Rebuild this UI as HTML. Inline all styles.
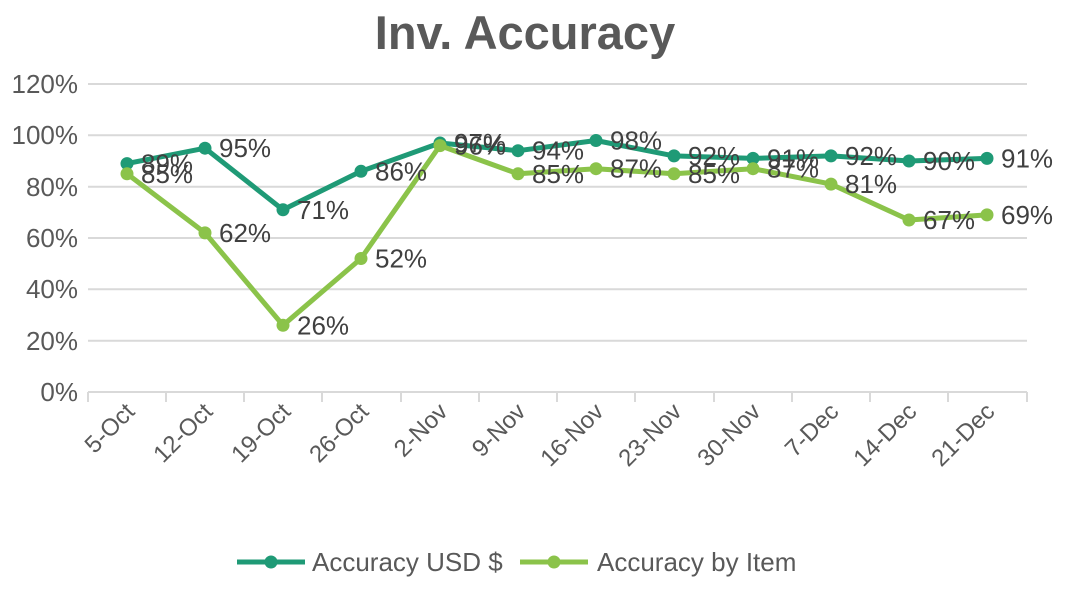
<!DOCTYPE html>
<html><head><meta charset="utf-8"><style>
html,body{margin:0;padding:0;background:#fff;}
svg{display:block;font-family:"Liberation Sans",sans-serif;}
</style></head><body>
<svg width="1072" height="591" viewBox="0 0 1072 591" xmlns="http://www.w3.org/2000/svg">
<rect width="1072" height="591" fill="#fff"/>
<text x="525" y="49" text-anchor="middle" font-size="47" font-weight="bold" fill="#595959">Inv. Accuracy</text>
<g stroke="#d9d9d9" stroke-width="2">
<line x1="88" x2="1027" y1="84" y2="84"/>
<line x1="88" x2="1027" y1="135.3" y2="135.3"/>
<line x1="88" x2="1027" y1="186.7" y2="186.7"/>
<line x1="88" x2="1027" y1="238" y2="238"/>
<line x1="88" x2="1027" y1="289.3" y2="289.3"/>
<line x1="88" x2="1027" y1="340.7" y2="340.7"/>
<line x1="88" x2="1027" y1="392" y2="392"/>
<line x1="88" x2="88" y1="392" y2="402"/><line x1="166" x2="166" y1="392" y2="402"/><line x1="244" x2="244" y1="392" y2="402"/><line x1="322" x2="322" y1="392" y2="402"/><line x1="401" x2="401" y1="392" y2="402"/><line x1="479" x2="479" y1="392" y2="402"/><line x1="557" x2="557" y1="392" y2="402"/><line x1="635" x2="635" y1="392" y2="402"/><line x1="714" x2="714" y1="392" y2="402"/><line x1="792" x2="792" y1="392" y2="402"/><line x1="870" x2="870" y1="392" y2="402"/><line x1="948" x2="948" y1="392" y2="402"/><line x1="1027" x2="1027" y1="392" y2="402"/>
</g>
<g font-size="26" fill="#595959" text-anchor="end">
<text x="78" y="93">120%</text><text x="78" y="144">100%</text><text x="78" y="196">80%</text><text x="78" y="247">60%</text><text x="78" y="298">40%</text><text x="78" y="350">20%</text><text x="78" y="401">0%</text>
</g>
<g font-size="24" fill="#595959" text-anchor="end">
<text transform="translate(136,413) rotate(-45)">5-Oct</text>
<text transform="translate(214,413) rotate(-45)">12-Oct</text>
<text transform="translate(292,413) rotate(-45)">19-Oct</text>
<text transform="translate(370,413) rotate(-45)">26-Oct</text>
<text transform="translate(449,413) rotate(-45)">2-Nov</text>
<text transform="translate(527,413) rotate(-45)">9-Nov</text>
<text transform="translate(605,413) rotate(-45)">16-Nov</text>
<text transform="translate(683,413) rotate(-45)">23-Nov</text>
<text transform="translate(762,413) rotate(-45)">30-Nov</text>
<text transform="translate(840,413) rotate(-45)">7-Dec</text>
<text transform="translate(918,413) rotate(-45)">14-Dec</text>
<text transform="translate(996,413) rotate(-45)">21-Dec</text>
</g>
<polyline fill="none" stroke="#1f9a76" stroke-width="5" stroke-linejoin="round" points="127,163.6 205,148.2 283,209.8 361,171.3 440,143 518,150.7 596,140.5 674,155.9 753,158.4 831,155.9 909,161 987,158.4"/>
<g fill="#1f9a76"><circle cx="127" cy="163.6" r="6.5"/><circle cx="205" cy="148.2" r="6.5"/><circle cx="283" cy="209.8" r="6.5"/><circle cx="361" cy="171.3" r="6.5"/><circle cx="440" cy="143" r="6.5"/><circle cx="518" cy="150.7" r="6.5"/><circle cx="596" cy="140.5" r="6.5"/><circle cx="674" cy="155.9" r="6.5"/><circle cx="753" cy="158.4" r="6.5"/><circle cx="831" cy="155.9" r="6.5"/><circle cx="909" cy="161" r="6.5"/><circle cx="987" cy="158.4" r="6.5"/></g>
<polyline fill="none" stroke="#8bc34a" stroke-width="5" stroke-linejoin="round" points="127,173.8 205,232.9 283,325.3 361,258.5 440,145.6 518,173.8 596,168.7 674,173.8 753,168.7 831,184.1 909,220 987,214.9"/>
<g fill="#8bc34a"><circle cx="127" cy="173.8" r="6.5"/><circle cx="205" cy="232.9" r="6.5"/><circle cx="283" cy="325.3" r="6.5"/><circle cx="361" cy="258.5" r="6.5"/><circle cx="440" cy="145.6" r="6.5"/><circle cx="518" cy="173.8" r="6.5"/><circle cx="596" cy="168.7" r="6.5"/><circle cx="674" cy="173.8" r="6.5"/><circle cx="753" cy="168.7" r="6.5"/><circle cx="831" cy="184.1" r="6.5"/><circle cx="909" cy="220" r="6.5"/><circle cx="987" cy="214.9" r="6.5"/></g>
<g font-size="26" fill="#404040">
<text x="141" y="172.6">89%</text><text x="219" y="157.2">95%</text><text x="297" y="218.8">71%</text><text x="375" y="180.3">86%</text><text x="454" y="152">97%</text><text x="532" y="159.7">94%</text><text x="610" y="149.5">98%</text><text x="688" y="164.9">92%</text><text x="767" y="167.4">91%</text><text x="845" y="164.9">92%</text><text x="923" y="170">90%</text><text x="1001" y="167.4">91%</text>
<text x="141" y="182.8">85%</text><text x="219" y="241.9">62%</text><text x="297" y="334.3">26%</text><text x="375" y="267.5">52%</text><text x="454" y="154.6">96%</text><text x="532" y="182.8">85%</text><text x="610" y="177.7">87%</text><text x="688" y="182.8">85%</text><text x="767" y="177.7">87%</text><text x="845" y="193.1">81%</text><text x="923" y="229">67%</text><text x="1001" y="223.9">69%</text>
</g>
<line x1="237" x2="305" y1="562" y2="562" stroke="#1f9a76" stroke-width="5"/><circle cx="271" cy="562" r="6.5" fill="#1f9a76"/>
<text x="312" y="571" font-size="26" fill="#595959">Accuracy USD $</text>
<line x1="520" x2="588" y1="562" y2="562" stroke="#8bc34a" stroke-width="5"/><circle cx="554" cy="562" r="6.5" fill="#8bc34a"/>
<text x="597" y="571" font-size="26" fill="#595959">Accuracy by Item</text>
</svg>
</body></html>
